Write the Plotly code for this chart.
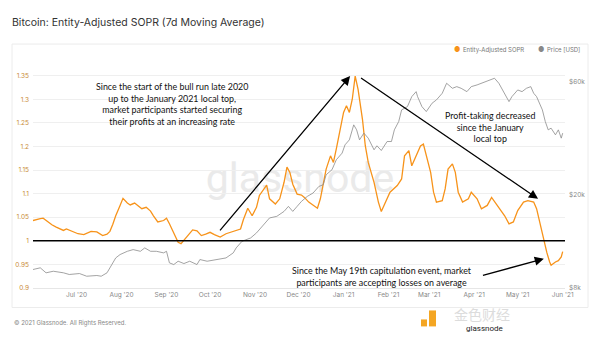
import plotly.graph_objects as go

# --- Entity-adjusted SOPR, 7d moving average ---
sopr_dates = [
    "2020-06-01", "2020-06-03", "2020-06-06", "2020-06-08", "2020-06-11", "2020-06-14",
    "2020-06-17", "2020-06-20", "2020-06-22", "2020-06-24", "2020-06-27", "2020-06-29",
    "2020-07-02", "2020-07-06", "2020-07-08", "2020-07-11", "2020-07-15", "2020-07-17",
    "2020-07-19", "2020-07-22", "2020-07-24", "2020-07-26", "2020-07-28", "2020-07-31",
    "2020-08-02", "2020-08-05", "2020-08-07", "2020-08-10", "2020-08-12", "2020-08-15",
    "2020-08-18", "2020-08-21", "2020-08-23", "2020-08-26", "2020-08-30", "2020-09-01",
    "2020-09-03", "2020-09-06", "2020-09-09", "2020-09-11", "2020-09-14", "2020-09-17",
    "2020-09-19", "2020-09-22", "2020-09-25", "2020-09-28", "2020-10-01", "2020-10-04",
    "2020-10-08", "2020-10-12", "2020-10-18", "2020-10-22", "2020-10-24", "2020-10-25",
    "2020-10-27", "2020-10-30", "2020-11-02", "2020-11-04", "2020-11-07", "2020-11-09",
    "2020-11-11", "2020-11-15", "2020-11-18", "2020-11-21", "2020-11-23", "2020-11-25",
    "2020-11-27", "2020-11-30", "2020-12-03", "2020-12-05", "2020-12-08", "2020-12-11",
    "2020-12-14", "2020-12-16", "2020-12-18", "2020-12-20", "2020-12-23", "2020-12-25",
    "2020-12-27", "2020-12-30", "2021-01-01", "2021-01-03", "2021-01-05", "2021-01-07",
    "2021-01-09", "2021-01-11", "2021-01-14", "2021-01-16", "2021-01-18", "2021-01-22",
    "2021-01-25", "2021-01-27", "2021-01-30", "2021-02-02", "2021-02-07", "2021-02-10",
    "2021-02-12", "2021-02-15", "2021-02-17", "2021-02-19", "2021-02-23", "2021-02-25",
    "2021-02-27", "2021-03-02", "2021-03-04", "2021-03-06", "2021-03-10", "2021-03-12",
    "2021-03-14", "2021-03-17", "2021-03-19", "2021-03-21", "2021-03-24", "2021-03-28",
    "2021-03-30", "2021-04-03", "2021-04-06", "2021-04-10", "2021-04-13", "2021-04-17",
    "2021-04-20", "2021-04-22", "2021-04-25", "2021-04-28", "2021-05-01", "2021-05-05",
    "2021-05-08", "2021-05-12", "2021-05-14", "2021-05-16", "2021-05-19", "2021-05-21",
    "2021-05-23", "2021-05-24", "2021-05-27", "2021-05-29", "2021-05-31", "2021-06-01",
]
sopr_values = [
    1.043, 1.045, 1.047, 1.048, 1.040, 1.034,
    1.029, 1.025, 1.022, 1.025, 1.021, 1.018,
    1.015, 1.013, 1.016, 1.020, 1.019, 1.015,
    1.011, 1.014, 1.020, 1.035, 1.053, 1.075,
    1.090, 1.080, 1.076, 1.080, 1.075, 1.068,
    1.071, 1.063, 1.053, 1.040, 1.043, 1.048,
    1.036, 1.018, 0.997, 0.994, 1.004, 1.015,
    1.023, 1.021, 1.011, 1.014, 1.018, 1.013,
    1.008, 1.015, 1.022, 1.025, 1.045, 1.053,
    1.069, 1.053, 1.071, 1.096, 1.110, 1.118,
    1.089, 1.078, 1.089, 1.124, 1.156, 1.145,
    1.120, 1.099, 1.097, 1.092, 1.082, 1.075,
    1.069, 1.089, 1.117, 1.152, 1.180, 1.166,
    1.195, 1.244, 1.272, 1.286, 1.272, 1.300,
    1.349, 1.321, 1.258, 1.201, 1.166, 1.124,
    1.082, 1.062, 1.082, 1.103, 1.117, 1.131,
    1.180, 1.191, 1.159, 1.173, 1.201, 1.205,
    1.180, 1.145, 1.103, 1.082, 1.085, 1.110,
    1.152, 1.163, 1.145, 1.103, 1.082, 1.089,
    1.103, 1.089, 1.068, 1.075, 1.092, 1.075,
    1.061, 1.053, 1.036, 1.040, 1.064, 1.082,
    1.085, 1.082, 1.068, 1.040, 1.004, 0.976,
    0.955, 0.948, 0.955, 0.958, 0.966, 0.977,
]

# --- BTC price in USD ---
price_dates = [
    "2020-06-01", "2020-06-06", "2020-06-10", "2020-06-15", "2020-06-22", "2020-06-26",
    "2020-07-03", "2020-07-08", "2020-07-15", "2020-07-18", "2020-07-22", "2020-07-24",
    "2020-07-28", "2020-07-31", "2020-08-05", "2020-08-09", "2020-08-14", "2020-08-17",
    "2020-08-21", "2020-08-25", "2020-08-30", "2020-09-01", "2020-09-03", "2020-09-06",
    "2020-09-09", "2020-09-13", "2020-09-17", "2020-09-22", "2020-09-24", "2020-09-29",
    "2020-10-06", "2020-10-12", "2020-10-17", "2020-10-19", "2020-10-23", "2020-10-29",
    "2020-11-02", "2020-11-07", "2020-11-11", "2020-11-16", "2020-11-21", "2020-11-24",
    "2020-11-27", "2020-11-30", "2020-12-03", "2020-12-07", "2020-12-11", "2020-12-15",
    "2020-12-18", "2020-12-20", "2020-12-24", "2020-12-27", "2020-12-31", "2021-01-02",
    "2021-01-05", "2021-01-08", "2021-01-10", "2021-01-12", "2021-01-15", "2021-01-18",
    "2021-01-22", "2021-01-24", "2021-01-27", "2021-01-31", "2021-02-03", "2021-02-05",
    "2021-02-08", "2021-02-10", "2021-02-14", "2021-02-17", "2021-02-20", "2021-02-21",
    "2021-02-24", "2021-02-27", "2021-03-03", "2021-03-06", "2021-03-10", "2021-03-13",
    "2021-03-17", "2021-03-20", "2021-03-23", "2021-03-27", "2021-03-30", "2021-04-03",
    "2021-04-06", "2021-04-10", "2021-04-13", "2021-04-15", "2021-04-18", "2021-04-21",
    "2021-04-25", "2021-04-27", "2021-05-01", "2021-05-04", "2021-05-07", "2021-05-10",
    "2021-05-12", "2021-05-14", "2021-05-18", "2021-05-20", "2021-05-22", "2021-05-24",
    "2021-05-27", "2021-05-29", "2021-05-31", "2021-06-01",
]
price_values = [
    9585, 9745, 9280, 9425, 9280, 9130,
    9215, 8976, 9040, 8976, 9280, 9745,
    10735, 11095, 11455, 11645, 11455, 11840,
    11455, 11455, 11280, 11455, 10230, 10060,
    10395, 10160, 10395, 10060, 10565, 10395,
    10565, 10735, 11280, 11840, 12625, 13055,
    13710, 14865, 15870, 16120, 16920, 17775,
    16920, 17775, 18660, 19590, 20255, 21600,
    21960, 24215, 25420, 28030, 29920, 32440,
    34060, 39440, 37560, 34060, 36370, 34630,
    30905, 32135, 30695, 33505, 33505, 37560,
    40730, 45650, 47135, 51970, 54580, 51970,
    47135, 44900, 48740, 50340, 53720, 59240,
    56380, 57310, 56380, 54580, 57310, 58280,
    59240, 60150, 61180, 62200, 59240, 54580,
    49500, 51970, 55480, 54580, 56380, 57310,
    53720, 51970, 45650, 40730, 37560, 38180,
    35775, 37560, 34630, 36370,
]

month_ticks = [
    "2020-07-01", "2020-08-01", "2020-09-01", "2020-10-01", "2020-11-01", "2020-12-01",
    "2021-01-01", "2021-02-01", "2021-03-01", "2021-04-01", "2021-05-01", "2021-06-01",
]
month_labels = ["Jul '20", "Aug '20", "Sep '20", "Oct '20", "Nov '20", "Dec '20",
                "Jan '21", "Feb '21", "Mar '21", "Apr '21", "May '21", "Jun '21"]
sopr_ticks = [0.9, 0.95, 1.0, 1.05, 1.1, 1.15, 1.2, 1.25, 1.3, 1.35]
sopr_tick_labels = ["0.9", "0.95", "1", "1.05", "1.1", "1.15", "1.2", "1.25", "1.3", "1.35"]
price_ticks = [8000, 20000, 60000]
price_tick_labels = ["$8k", "$20k", "$60k"]
breakeven = 1.0

# --- page geometry (px) ---
W, H = 600, 338
ML, MR, MT, MB = 33, 35, 65, 49.5
PW, PH = W - ML - MR, H - MT - MB

ORANGE = "#f7931a"
GREY = "#8c8c8c"
TEXT_FONT = "Lato"
UI_FONT = "Inter"


def px(x, y):
    """Pixel position on the page -> paper coordinates of the plot area."""
    return (x - ML) / PW, (H - MB - y) / PH


fig = go.Figure()

fig.add_trace(go.Scatter(
    x=price_dates, y=price_values, yaxis="y2", mode="lines",
    line=dict(color=GREY, width=0.8), name="Price [USD]", showlegend=False,
))
fig.add_trace(go.Scatter(
    x=sopr_dates, y=sopr_values, mode="lines",
    line=dict(color=ORANGE, width=1.3), name="Entity-Adjusted SOPR", showlegend=False,
))

shapes = []
# card frame
cx0, cy0 = px(12, 44)
cx1, cy1 = px(588, 308)
shapes.append(dict(type="rect", xref="paper", yref="paper", x0=cx0, y0=cy1, x1=cx1, y1=cy0,
                   line=dict(color="#ececec", width=1), fillcolor="rgba(0,0,0,0)", layer="below"))
# watermark behind the series
wx0, wy0 = px(190, 200)
wx1, wy1 = px(410, 150)
shapes.append(dict(type="rect", xref="paper", yref="paper", x0=wx0, y0=wy0, x1=wx1, y1=wy1,
                   line=dict(width=0), fillcolor="rgba(0,0,0,0)", layer="below",
                   label=dict(text="glassnode", textposition="middle center",
                              font=dict(family="Roboto", size=41, color="#eaeaea"))))
# SOPR = 1 break-even line
shapes.append(dict(type="line", xref="paper", yref="y", x0=0, x1=1, y0=breakeven, y1=breakeven,
                   line=dict(color="black", width=1.5)))
# small orange logo marks, bottom right
for (a, b, c, d) in [(421, 320, 427, 327), (429, 311, 436, 327)]:
    sx0, sy0 = px(a, d)
    sx1, sy1 = px(c, b)
    shapes.append(dict(type="rect", xref="paper", yref="paper", x0=sx0, y0=sy0, x1=sx1, y1=sy1,
                       line=dict(width=0), fillcolor="#f4a623"))

annotations = []


def note(text, x, y, size=8.9, color="#111", family=TEXT_FONT, xanchor="center", yanchor="middle",
         align="center"):
    ax_, ay_ = px(x, y)
    annotations.append(dict(text=text, xref="paper", yref="paper", x=ax_, y=ay_,
                            xanchor=xanchor, yanchor=yanchor, align=align, showarrow=False,
                            font=dict(family=family, size=size, color=color)))


note("Since the start of the bull run late 2020<br>up to the January 2021 local top,<br>"
     "market participants started securing<br>their profits at an increasing rate", 172, 104.5)
note("Profit-taking decreased<br>since the January<br>local top", 490, 127)
note("Since the May 19th capitulation event, market<br>participants are accepting losses on average",
     382, 276.5)

# arrows: (head date, head value, tail date, tail value) in data space
arrows = [
    ("2021-01-05 12:00", 1.349, "2020-10-07", 1.019),
    ("2021-05-15", 1.089, "2021-01-12", 1.347),
    ("2021-05-19", 0.962, "2021-04-06", 0.926),
]
for hx, hy, tx, ty in arrows:
    annotations.append(dict(x=hx, y=hy, ax=tx, ay=ty, xref="x", yref="y", axref="x", ayref="y",
                            text="", showarrow=True, arrowhead=2, arrowsize=1.4, arrowwidth=1.3,
                            arrowcolor="black", standoff=0))

# legend
note("●", 457, 49.5, size=7, color=ORANGE, family=UI_FONT)
note("Entity-Adjusted SOPR", 461, 49.5, size=6, color="#777", family=UI_FONT, xanchor="left")
note("●", 541, 49.5, size=7, color="#888", family=UI_FONT)
note("Price [USD]", 545, 49.5, size=6, color="#777", family=UI_FONT, xanchor="left")

# footer
note("© 2021 Glassnode. All Rights Reserved.", 12, 323.5, size=6, color="#888",
     family=UI_FONT, xanchor="left")
note("金色财经", 482, 315, size=14, color="#dcdcdc", family="Noto Sans CJK SC")
note("glassnode", 484, 329.5, size=8, color="#222", family="Roboto")

fig.update_layout(
    width=W, height=H,
    margin=dict(l=ML, r=MR, t=MT, b=MB, pad=0),
    paper_bgcolor="white", plot_bgcolor="white",
    title=dict(text="Bitcoin: Entity-Adjusted SOPR (7d Moving Average)",
               x=12 / W, xref="container", xanchor="left",
               y=1 - 22.5 / H, yref="container", yanchor="middle",
               font=dict(family=UI_FONT, size=10.5, color="#333")),
    font=dict(family=UI_FONT),
    showlegend=False,
    xaxis=dict(type="date", range=["2020-06-01", "2021-06-02 14:00"],
               tickvals=month_ticks, ticktext=month_labels,
               tickfont=dict(size=6.5, color="#888"), ticks="", showgrid=False,
               showline=True, linecolor="#e6e6e6", linewidth=1, zeroline=False),
    yaxis=dict(range=[0.9, 0.9 + PH / 473], tickvals=sopr_ticks, ticktext=sopr_tick_labels,
               tickfont=dict(size=6.5, color="#c98a35"), ticks="", showgrid=True,
               gridcolor="#efefef", gridwidth=1, zeroline=False, showline=False,
               ticklabelstandoff=3),
    yaxis2=dict(type="log", overlaying="y", side="right",
                range=[3.90309, 3.90309 + PH / 236],
                tickvals=price_ticks, ticktext=price_tick_labels,
                tickfont=dict(size=6.5, color="#888"), ticks="", showgrid=False,
                zeroline=False, showline=False, ticklabelstandoff=3),
    shapes=shapes,
    annotations=annotations,
)

fig.write_html("out.html")
